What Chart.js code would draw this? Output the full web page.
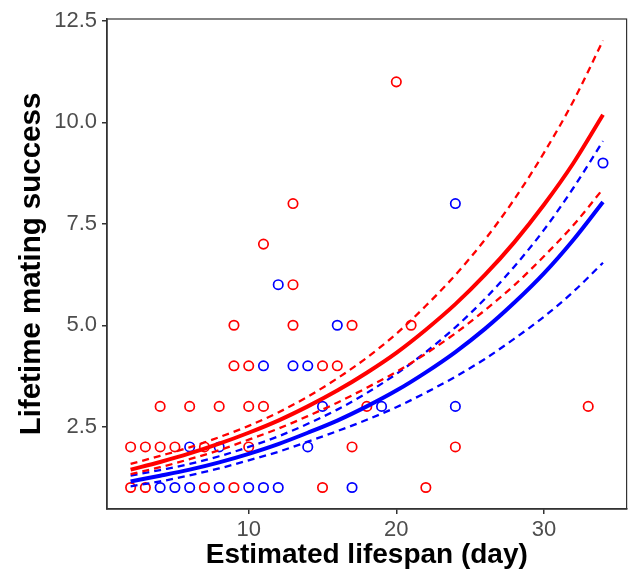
<!DOCTYPE html>
<html>
<head>
<meta charset="utf-8">
<script src="https://cdn.jsdelivr.net/npm/chart.js@4.4.0/dist/chart.umd.min.js"></script>
<style>
  html, body { margin: 0; padding: 0; background: #fff; }
  #wrap { width: 633px; height: 574px; }
</style>
</head>
<body>
<div id="wrap"><canvas id="chart" width="633" height="574"></canvas></div>
<script>
// observed points (lifespan in days, mating success)
var redX  = [2, 3, 7, 9, 15, 22, 2, 3, 4, 5, 7, 10, 17, 24, 4, 6, 8, 10, 11, 18, 33, 9, 10, 15, 16, 9, 13, 17, 21, 13, 11, 13, 20];
var redY  = [1, 1, 1, 1, 1, 1, 2, 2, 2, 2, 2, 2, 2, 2, 3, 3, 3, 3, 3, 3, 3, 4, 4, 4, 4, 5, 5, 5, 5, 6, 7, 8, 11];
var blueX = [4, 5, 6, 8, 10, 11, 12, 17, 6, 8, 14, 15, 19, 24, 11, 13, 14, 16, 12, 24, 34];
var blueY = [1, 1, 1, 1, 1, 1, 1, 1, 2, 2, 2, 3, 3, 3, 4, 4, 4, 5, 6, 8, 9];

// fitted curves
var fitX    = [2, 4, 6, 8, 10, 12, 14, 16, 18, 20, 22, 24, 26, 28, 30, 32, 34];
var redFit  = [1.44, 1.63, 1.84, 2.08, 2.35, 2.65, 3.00, 3.39, 3.83, 4.32, 4.89, 5.52, 6.24, 7.05, 7.97, 9.00, 10.19];
var redHi   = [1.58, 1.78, 1.99, 2.24, 2.52, 2.85, 3.24, 3.69, 4.20, 4.79, 5.48, 6.24, 7.11, 8.11, 9.25, 10.53, 12.02];
var redLo   = [1.33, 1.50, 1.70, 1.92, 2.18, 2.45, 2.76, 3.09, 3.46, 3.85, 4.30, 4.80, 5.37, 5.99, 6.70, 7.47, 8.36];
var blueFit = [1.15, 1.29, 1.44, 1.62, 1.83, 2.07, 2.35, 2.65, 3.00, 3.39, 3.84, 4.34, 4.91, 5.56, 6.28, 7.11, 8.04];
var blueHi  = [1.29, 1.43, 1.58, 1.77, 2.00, 2.26, 2.57, 2.92, 3.33, 3.80, 4.34, 4.95, 5.65, 6.45, 7.35, 8.39, 9.54];
var blueLo  = [1.03, 1.15, 1.30, 1.47, 1.67, 1.88, 2.13, 2.39, 2.67, 2.98, 3.34, 3.73, 4.17, 4.67, 5.21, 5.83, 6.54];

var xTicks = [10, 20, 30];
var yTicks = [2.5, 5.0, 7.5, 10.0, 12.5];

function pairs(xs, ys) {
    return xs.map(function (x, i) { return { x: x, y: ys[i] }; });
}

function curve(ys, color, dashed) {
    return {
        data: pairs(fitX, ys),
        showLine: true,
        pointRadius: 0,
        borderColor: color,
        borderWidth: dashed ? 2.3 : 4,
        borderDash: dashed ? [7, 5] : [],
        cubicInterpolationMode: 'monotone',
        fill: false
    };
}

function points(xs, ys, color) {
    return {
        data: pairs(xs, ys),
        showLine: false,
        pointStyle: 'circle',
        pointRadius: 4.7,
        pointBorderWidth: 1.7,
        borderColor: color,
        backgroundColor: 'rgba(0,0,0,0)'
    };
}

var panelBorder = {
    id: 'panelBorder',
    beforeDatasetsDraw: function (chart) {
        var a = chart.chartArea, c = chart.ctx;
        c.save();
        c.strokeStyle = '#333';
        c.lineWidth = 1.2;
        c.strokeRect(a.left, a.top, a.right - a.left, a.bottom - a.top);
        c.restore();
    }
};

var tickFont = { family: '"Liberation Sans", Arial, sans-serif', size: 22 };
var xTitleFont = { family: '"Liberation Sans", Arial, sans-serif', size: 28, weight: 'bold' };
var yTitleFont = { family: '"Liberation Sans", Arial, sans-serif', size: 29.5, weight: 'bold' };

var ctx = document.getElementById('chart').getContext('2d');
var chart = new Chart(ctx, {
    type: 'scatter',
    data: {
        datasets: [
            curve(redFit, '#ff0000', false),
            curve(redHi, '#ff0000', true),
            curve(redLo, '#ff0000', true),
            curve(blueFit, '#0000ff', false),
            curve(blueHi, '#0000ff', true),
            curve(blueLo, '#0000ff', true),
            points(redX, redY, '#ff0000'),
            points(blueX, blueY, '#0000ff')
        ]
    },
    options: {
        responsive: false,
        animation: false,
        devicePixelRatio: 1,
        layout: { padding: { top: 19, right: 3, left: 0, bottom: 0 } },
        plugins: { legend: { display: false }, tooltip: { enabled: false } },
        scales: {
            x: {
                type: 'linear',
                min: 0.4,
                max: 35.6,
                afterBuildTicks: function (s) { s.ticks = xTicks.map(function (v) { return { value: v }; }); },
                afterFit: function (s) { s.height = 65; },
                ticks: { font: tickFont, color: '#4d4d4d', padding: 3, maxRotation: 0,
                         callback: function (v) { return v; } },
                grid: { drawOnChartArea: false, tickLength: 5, color: '#333', lineWidth: 1.5 },
                border: { color: '#333', width: 1.5 },
                title: { display: true, text: 'Estimated lifespan (day)', font: xTitleFont, color: '#000',
                         padding: { top: 0, bottom: 2 } }
            },
            y: {
                type: 'linear',
                min: 0.47,
                max: 12.55,
                afterBuildTicks: function (s) { s.ticks = yTicks.map(function (v) { return { value: v }; }); },
                afterFit: function (s) { s.width = 107; },
                ticks: { font: tickFont, color: '#4d4d4d', padding: 5,
                         callback: function (v) { return v.toFixed(1); } },
                grid: { drawOnChartArea: false, tickLength: 5, color: '#333', lineWidth: 1.5 },
                border: { color: '#333', width: 1.5 },
                title: { display: true, text: 'Lifetime mating success', font: yTitleFont, color: '#000',
                         padding: { top: 14, bottom: 0 } }
            }
        }
    },
    plugins: [panelBorder]
});
</script>
</body>
</html>
